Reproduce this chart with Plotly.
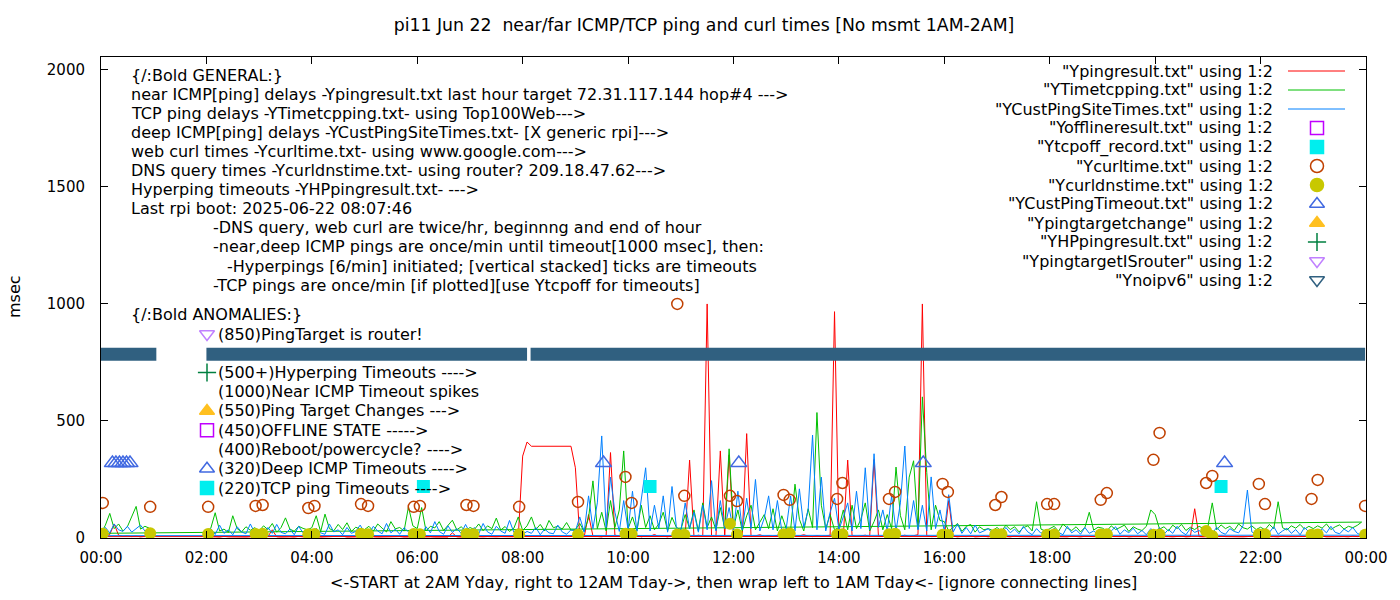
import pandas as pd
import plotly.graph_objects as go

DAY = "2025-06-22 "

# ---- line series at 5 minute steps ----
# file order: starts 02:00, runs to 23:55, then wraps left to 00:00 .. 00:55
sample_times = list(pd.date_range(DAY + "02:00", DAY + "23:55", freq="5min")) + \
               list(pd.date_range(DAY + "00:00", DAY + "00:55", freq="5min"))

near_icmp = [  # Ypingresult.txt (red)
    4, 6, 5, 4, 7, 5, 4, 6, 5, 4, 5, 6,            # 02
    5, 4, 6, 35, 5, 4, 6, 5, 4, 7, 5, 4,           # 03
    6, 5, 4, 5, 6, 4, 5, 8, 4, 5, 6, 5,            # 04
    4, 6, 5, 4, 5, 6, 4, 5, 6, 4, 5, 6,            # 05
    5, 4, 6, 5, 4, 5, 6, 4, 22, 5, 4, 6,           # 06
    5, 6, 4, 5, 6, 4, 5, 6, 5, 4, 6, 5,            # 07
    350, 410, 392, 392, 392, 392, 392, 392, 392, 392, 392, 392,  # 08
    300, 6, 5, 100, 8, 6, 5, 10, 365, 12, 8, 6,    # 09
    8, 6, 12, 5, 9, 7, 15, 6, 8, 5, 10, 7,         # 10
    6, 9, 333, 7, 12, 8, 1000, 10, 6, 372, 9, 355, # 11
    8, 12, 10, 446, 6, 9, 14, 7, 10, 6, 12, 8,     # 12
    7, 10, 6, 9, 14, 8, 6, 11, 7, 9, 12, 967,      # 13
    8, 6, 333, 10, 7, 9, 12, 6, 335, 8, 7, 10,     # 14
    9, 6, 8, 12, 7, 10, 14, 1000, 9, 6, 8, 7,      # 15
    6, 160, 8, 5, 7, 6, 9, 5, 6, 8, 5, 7,          # 16
    5, 7, 6, 5, 8, 6, 5, 7, 6, 5, 6, 8,            # 17
    6, 5, 7, 6, 5, 8, 6, 5, 7, 6, 5, 6,            # 18
    5, 7, 6, 5, 6, 8, 5, 6, 7, 5, 6, 5,            # 19
    6, 5, 7, 6, 5, 6, 8, 5, 6, 125, 6, 5,          # 20
    7, 6, 5, 8, 6, 5, 7, 6, 5, 6, 8, 5,            # 21
    6, 5, 7, 6, 5, 8, 6, 5, 6, 7, 5, 6,            # 22
    5, 6, 8, 5, 6, 7, 5, 6, 5, 8, 6, 7,            # 23
    6, 8, 15, 60, 12, 7, 9, 6, 8, 5, 7, 6,         # 00
]

tcp_ping = [  # YTimetcpping.txt (green)
    28, 42, 108, 30, 38, 24, 95, 40, 26, 48, 33, 44,
    30, 52, 36, 62, 25, 45, 86, 38, 29, 50, 41, 35,
    44, 95, 27, 102, 40, 31, 58, 36, 65, 28, 46, 38,
    36, 50, 29, 60, 42, 26, 70, 39, 45, 30, 133, 52,
    40, 130, 30, 50, 43, 70, 32, 52, 76, 35, 48, 30,
    45, 36, 60, 31, 52, 40, 85, 34, 49, 28, 42, 90,
    32, 52, 90, 36, 58, 30, 75, 44, 50, 38, 66, 34,
    35, 62, 28, 85, 244, 40, 110, 30, 160, 45, 120, 372,
    40, 90, 30, 140, 45, 95, 35, 60, 110, 30, 88, 45,
    35, 100, 40, 120, 30, 150, 45, 90, 35, 130, 40, 381,
    45, 120, 30, 95, 140, 35, 70, 100, 40, 125, 30, 95,
    40, 35, 230, 80, 30, 125, 45, 536, 140, 40, 100, 35,
    45, 120, 35, 140, 40, 80, 150, 30, 70, 120, 35, 100,
    40, 303, 95, 35, 260, 330, 40, 603, 280, 35, 140, 75,
    70, 30, 45, 62, 28, 50, 58, 25, 48, 35, 40, 32,
    45, 28, 55, 36, 48, 26, 44, 52, 30, 155, 38, 30,
    40, 50, 28, 60, 42, 32, 48, 26, 45, 110, 34, 46,
    42, 30, 52, 36, 45, 55, 28, 48, 38, 32, 50, 120,
    100, 38, 48, 30, 55, 40, 58, 32, 46, 36, 50, 40,
    48, 150, 35, 56, 40, 50, 32, 60, 44, 38, 52, 36,
    46, 35, 58, 40, 155, 44, 34, 52, 42, 58, 38, 50,
    40, 52, 42, 60, 36, 48, 56, 38, 50, 44, 54, 68,
    20, 55, 105, 40, 60, 30, 48, 95, 135, 38, 50, 42,
]

deep_icmp = [  # YCustPingSiteTimes.txt (blue)
    22, 40, 15, 55, 20, 35, 14, 48, 26, 18, 60, 22,
    28, 16, 45, 20, 58, 24, 18, 38, 14, 50, 22, 30,
    18, 42, 22, 16, 60, 26, 35, 14, 45, 20, 28, 55,
    24, 16, 50, 30, 18, 62, 22, 38, 16, 44, 26, 20,
    32, 18, 48, 22, 70, 28, 16, 52, 24, 40, 20, 58,
    22, 45, 18, 62, 26, 16, 50, 30, 20, 75, 24, 40,
    16, 28, 20, 45, 14, 38, 22, 18, 55, 26, 16, 35,
    30, 90, 25, 180, 40, 150, 436, 45, 260, 110, 28, 160,
    35, 200, 28, 160, 300, 30, 140, 40, 180, 25, 220, 45,
    30, 150, 40, 110, 25, 140, 35, 245, 30, 160, 40, 130,
    28, 200, 35, 170, 40, 250, 30, 85, 180, 35, 160, 30,
    40, 180, 30, 210, 45, 120, 440, 35, 260, 30, 110, 170,
    35, 90, 150, 30, 200, 40, 300, 35, 360, 45, 120, 30,
    180, 30, 150, 393, 40, 160, 35, 140, 30, 261, 40, 120,
    30, 185, 25, 60, 20, 45, 18, 55, 22, 30, 40, 18,
    25, 16, 45, 22, 38, 18, 50, 26, 14, 40, 20, 35,
    18, 42, 24, 14, 50, 22, 35, 16, 45, 20, 30, 15,
    38, 18, 30, 48, 16, 35, 22, 42, 18, 32, 14, 40,
    22, 45, 16, 36, 20, 50, 26, 14, 40, 24, 32, 18,
    34, 18, 46, 24, 16, 40, 28, 22, 52, 205, 26, 16,
    18, 35, 24, 48, 16, 30, 42, 20, 36, 14, 45, 26,
    30, 16, 40, 22, 50, 24, 18, 38, 26, 45, 20, 12,
    10, 45, 22, 60, 35, 28, 50, 25, 40, 55, 30, 38,
]

# ---- point series ----
curl_times = ["00:02", "00:56", "02:02", "02:56", "03:04", "03:56", "04:03", "04:56", "05:04",
              "05:56", "06:03", "06:56", "07:04", "07:56", "09:03", "09:57", "10:04", "10:56",
              "11:04", "11:56", "12:04", "12:57", "13:04", "13:58", "14:04", "14:57", "15:04",
              "15:58", "16:04", "16:58", "17:05", "17:57", "18:05", "18:58", "19:05", "19:58",
              "20:05", "20:58", "21:05", "21:58", "22:05", "22:58", "23:05", "23:59"]
curl_ms = [150, 133, 133, 137, 141, 128, 137, 145, 137, 133, 137, 141, 137, 133, 154, 261, 150, 1000,
           180, 180, 158, 184, 163, 167, 235, 167, 197, 231, 197, 141, 175, 145, 145, 163, 192, 334,
           449, 235, 265, 231, 145, 167, 248, 137]
dns_ms = [18, 20, 17, 17, 18, 16, 17, 18, 16, 17, 16, 17, 16, 16, 14, 18, 17, 15,
          14, 61, 15, 16, 19, 14, 16, 16, 18, 14, 13, 15, 16, 14, 15, 15, 16, 14,
          15, 30, 9, 15, 16, 14, 15, 14]

tcpoff_times = ["06:07", "10:25", "21:15"]
tcpoff_ms = [220, 220, 220]

deep_timeout_times = ["00:13", "00:17", "00:21", "00:25", "00:29", "00:33",
                      "09:32", "12:06", "15:36", "21:19"]
deep_timeout_ms = [320, 320, 320, 320, 320, 320, 320, 320, 320, 320]

# Ynoipv6 flags every minute -> drawn as a solid band over these stretches
noipv6_start = ["00:00", "02:00", "08:09"]
noipv6_end = ["01:03", "08:05", "23:59"]
noipv6_ms = 785

# ---- texts ----
title_text = "pi11 Jun 22  near/far ICMP/TCP ping and curl times [No msmt 1AM-2AM]"
xlabel_text = "&lt;-START at 2AM Yday, right to 12AM Tday-&gt;, then wrap left to 1AM Tday&lt;- [ignore connecting lines]"
ylabel_text = "msec"

general_lines = [
    "{/:Bold GENERAL:}",
    "near ICMP[ping] delays -Ypingresult.txt last hour target 72.31.117.144 hop#4 ---&gt;",
    "TCP ping delays -YTimetcpping.txt- using Top100Web---&gt;",
    "deep ICMP[ping] delays -YCustPingSiteTimes.txt- [X generic rpi]---&gt;",
    "web curl times -Ycurltime.txt- using www.google.com---&gt;",
    "DNS query times -Ycurldnstime.txt- using router? 209.18.47.62---&gt;",
    "Hyperping timeouts -YHPpingresult.txt- ---&gt;",
    "Last rpi boot: 2025-06-22 08:07:46",
    "-DNS query, web curl are twice/hr, beginnng and end of hour",
    "-near,deep ICMP pings are once/min until timeout[1000 msec], then:",
    "-Hyperpings [6/min] initiated; [vertical stacked] ticks are timeouts",
    "-TCP pings are once/min [if plotted][use Ytcpoff for timeouts]",
]
general_x = [129, 129, 129, 129, 129, 129, 129, 129, 211, 211, 225, 211]

anomaly_lines = [
    "(850)PingTarget is router!",
    "",
    "(500+)Hyperping Timeouts ----&gt;",
    "(1000)Near ICMP Timeout spikes",
    "(550)Ping Target Changes ---&gt;",
    "(450)OFFLINE STATE -----&gt;",
    "(400)Reboot/powercycle? ----&gt;",
    "(320)Deep ICMP Timeouts ----&gt;",
    "(220)TCP ping Timeouts ----&gt;",
]
anomaly_symbols = ["triangle-down-open", None, "cross-thin", None, "triangle-up",
                   "square-open", None, "triangle-up-open", "square"]
anomaly_colors = ["#c080ff", None, "#008040", None, "#ffc020",
                  "#c000ff", None, "#4169e1", "#00eeee"]

legend_labels = ['"Ypingresult.txt" using 1:2', '"YTimetcpping.txt" using 1:2',
                 '"YCustPingSiteTimes.txt" using 1:2', '"Yofflineresult.txt" using 1:2',
                 '"Ytcpoff_record.txt" using 1:2', '"Ycurltime.txt" using 1:2',
                 '"Ycurldnstime.txt" using 1:2', '"YCustPingTimeout.txt" using 1:2',
                 '"Ypingtargetchange" using 1:2', '"YHPpingresult.txt" using 1:2',
                 '"YpingtargetISrouter" using 1:2', '"Ynoipv6" using 1:2']
legend_colors = ["#ff0000", "#00c000", "#0080ff", "#c000ff", "#00eeee", "#c04000",
                 "#c8c800", "#4169e1", "#ffc020", "#008040", "#c080ff", "#306080"]
legend_symbols = [None, None, None, "square-open", "square", "circle-open", "circle",
                  "triangle-up-open", "triangle-up", "cross-thin", "triangle-down-open",
                  "triangle-down-open"]

FONT = "DejaVu Sans"
FS = 16          # labels / key text
TICK_FS = 15
L, R, T, B = 101, 1366, 57, 538   # plot area in pixels


def t(hhmm):
    return pd.Timestamp(DAY + hhmm)


def px_x(x):
    return (x - L) / (R - L)


def px_y(y):
    return (B - y) / (B - T)


fig = go.Figure()

for vals, col in [(near_icmp, "#ff0000"), (tcp_ping, "#00c000"), (deep_icmp, "#0080ff")]:
    fig.add_trace(go.Scatter(x=sample_times, y=vals, mode="lines",
                             line=dict(color=col, width=1)))

fig.add_trace(go.Scatter(x=[t(s) for s in tcpoff_times], y=tcpoff_ms, mode="markers",
                         marker=dict(symbol="square", size=13, color="#00eeee")))
fig.add_trace(go.Scatter(x=[t(s) for s in curl_times], y=curl_ms, mode="markers",
                         marker=dict(symbol="circle-open", size=11, color="#c04000",
                                     line=dict(width=1.5, color="#c04000"))))
fig.add_trace(go.Scatter(x=[t(s) for s in curl_times], y=dns_ms, mode="markers",
                         marker=dict(symbol="circle", size=12, color="#c8c800")))
fig.add_trace(go.Scatter(x=[t(s) for s in deep_timeout_times], y=deep_timeout_ms, mode="markers",
                         marker=dict(symbol="triangle-up-open", size=14, color="#4169e1",
                                     line=dict(width=1.5, color="#4169e1"))))

band_x, band_y = [], []
for s, e in zip(noipv6_start, noipv6_end):
    band_x += [t(s), t(e), None]
    band_y += [noipv6_ms, noipv6_ms, None]
fig.add_trace(go.Scatter(x=band_x, y=band_y, mode="lines",
                         line=dict(color="#306080", width=13)))

# key symbols (legend + anomaly list), placed in pixel units on an overlay axis
key_x, key_y, key_sym, key_col = [], [], [], []
for i, sym in enumerate(legend_symbols):
    row = 71 + 19 * i
    if sym is None:
        fig.add_shape(type="line", xref="paper", yref="paper",
                      x0=px_x(1288), x1=px_x(1345), y0=px_y(row), y1=px_y(row),
                      line=dict(color=legend_colors[i], width=1))
    else:
        key_x.append(1317)
        key_y.append(row)
        key_sym.append(sym)
        key_col.append(legend_colors[i])
for i, sym in enumerate(anomaly_symbols):
    if sym is not None:
        key_x.append(207)
        key_y.append(334 + 19.25 * i)
        key_sym.append(sym)
        key_col.append(anomaly_colors[i])
fig.add_trace(go.Scatter(x=key_x, y=key_y, mode="markers", xaxis="x2", yaxis="y2",
                         marker=dict(symbol=key_sym, size=13, color=key_col,
                                     line=dict(width=1.5, color=key_col))))

ann = []
for i, (txt, x) in enumerate(zip(general_lines, general_x)):
    ann.append(dict(x=px_x(x), y=px_y(75 + 19.1 * i), text=txt, xanchor="left"))
ann.append(dict(x=px_x(129), y=px_y(315), text="{/:Bold ANOMALIES:}", xanchor="left"))
for i, txt in enumerate(anomaly_lines):
    if txt:
        ann.append(dict(x=px_x(216), y=px_y(334 + 19.25 * i), text=txt, xanchor="left"))
for i, txt in enumerate(legend_labels):
    ann.append(dict(x=px_x(1275), y=px_y(71 + 19 * i), text=txt, xanchor="right"))
ann.append(dict(x=0.5, y=px_y(582), text=xlabel_text, xanchor="center"))
ann.append(dict(x=px_x(14), y=px_y(297), text=ylabel_text, xanchor="center", textangle=-90))
for a in ann:
    a.update(xref="paper", yref="paper", yanchor="middle", showarrow=False)

axis_style = dict(showline=True, linecolor="black", linewidth=1, mirror="ticks",
                  ticks="inside", ticklen=7, tickcolor="black", showgrid=False,
                  zeroline=False, tickfont=dict(family=FONT, size=TICK_FS, color="black"))

fig.update_layout(
    width=1400, height=600,
    margin=dict(l=L, r=1400 - R, t=T, b=600 - B),
    paper_bgcolor="white", plot_bgcolor="white",
    showlegend=False,
    font=dict(family=FONT, size=FS, color="black"),
    title=dict(text=title_text, x=704 / 1400, xref="container", y=1 - 25 / 600, yanchor="middle",
               font=dict(family=FONT, size=17.3, color="black")),
    xaxis=dict(range=[t("00:00"), pd.Timestamp("2025-06-23 00:00")], type="date",
               tickformat="%H:%M", dtick=2 * 3600 * 1000, tick0=t("00:00"),
               ticklabelstandoff=6, **axis_style),
    yaxis=dict(range=[0, 2055], tickvals=[0, 500, 1000, 1500, 2000],
               ticklabelstandoff=12, **axis_style),
    xaxis2=dict(overlaying="x", range=[L, R], visible=False),
    yaxis2=dict(overlaying="y", range=[B, T], visible=False),
    annotations=ann,
)

# page body has a default 8px margin; drop it so the figure sits at the window origin
fig.write_html("out.html", config={"displayModeBar": False},
               post_script="document.body.style.margin='0';")
